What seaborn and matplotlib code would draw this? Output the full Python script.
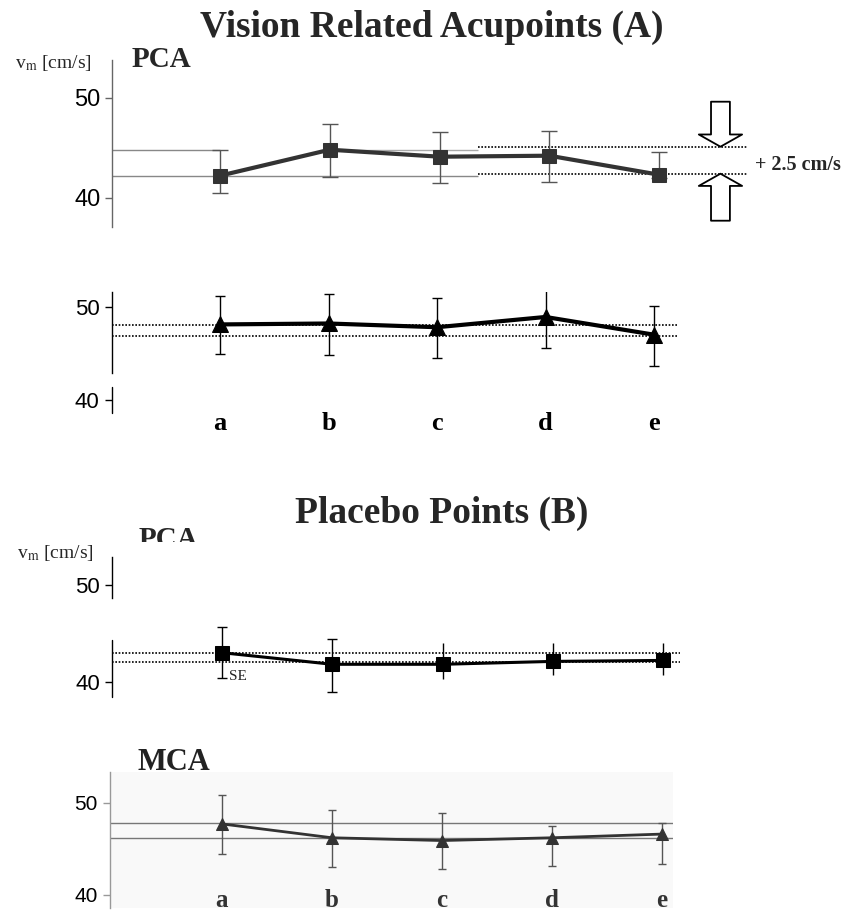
import numpy as np
import pandas as pd
import matplotlib
matplotlib.use("Agg")
import matplotlib.pyplot as plt
import seaborn as sns
from matplotlib.transforms import Bbox, TransformedBbox

# ── DATA ─────────────────────────────────────────────────────
sites = ["a", "b", "c", "d", "e"]
y_ticks = [40, 50]

# (A) vision related acupoints
vis_pca_mean = [42.2, 44.8, 44.1, 44.2, 42.3]
vis_pca_lo = [40.5, 42.1, 41.5, 41.6, 42.0]
vis_pca_hi = [44.8, 47.4, 46.6, 46.7, 44.6]
vis_pca_band = [45.1, 42.4]      # dotted lines, 2.5 cm/s apart
vis_pca_base = [44.8, 42.2]      # grey guide lines

vis_mca_mean = [48.1, 48.2, 47.8, 48.9, 47.0]
vis_mca_lo = [44.9, 44.8, 44.5, 45.6, 43.6]
vis_mca_hi = [51.2, 51.4, 50.9, 51.8, 50.1]
vis_mca_band = [48.0, 46.9]

# (B) placebo points
plc_pca_mean = [43.0, 41.8, 41.8, 42.1, 42.2]
plc_pca_lo = [40.4, 38.9, 40.3, 40.7, 40.7]
plc_pca_hi = [45.7, 44.4, 44.0, 44.0, 44.0]
plc_pca_band = [43.0, 42.0]

plc_mca_mean = [47.7, 46.2, 45.9, 46.2, 46.6]
plc_mca_lo = [44.4, 43.0, 42.8, 43.1, 43.4]
plc_mca_hi = [50.8, 49.2, 48.9, 47.5, 47.8]
plc_mca_band = [47.8, 46.2]

# ── STYLE ────────────────────────────────────────────────────
sns.set_style("white")
plt.rcParams['font.family'] = ['Liberation Sans', 'DejaVu Sans']
plt.rcParams['mathtext.fontset'] = 'stix'
SERIF = ['Liberation Serif', 'DejaVu Serif']

W, H = 856, 916
fig = plt.figure(figsize=(W / 100, H / 100), dpi=100)


def fx(px):
    return px / W


def fy(py):
    return 1 - py / H


def add_panel(x_a, x_e, y40, y50, xlim, ylim):
    # place axes so that sites a..e and ticks 40/50 land where the scan has them
    sx = (x_e - x_a) / 4
    sy = (y40 - y50) / 10
    left = x_a + xlim[0] * sx
    right = x_a + xlim[1] * sx
    bottom = y40 + (40 - ylim[0]) * sy
    top = y40 - (ylim[1] - 40) * sy
    ax = fig.add_axes([fx(left), fy(bottom), (right - left) / W, (bottom - top) / H])
    ax.patch.set_alpha(0)
    return ax


def style_axis(ax, xlim, ylim, spine_span, lower_span=None, col="black", fs=16):
    for s in ["top", "right", "bottom"]:
        ax.spines[s].set_visible(False)
    ax.spines["left"].set_color(col)
    ax.spines["left"].set_linewidth(1)
    ax.spines["left"].set_bounds(*spine_span)
    if lower_span is not None:
        ax.plot([0, 0], lower_span, transform=ax.get_yaxis_transform(),
                color=col, lw=1, clip_on=False)
    ax.set_xlim(xlim)
    ax.set_ylim(ylim)
    ax.set_xticks([])
    ax.set_yticks(y_ticks)
    ax.set_yticklabels([str(t) for t in y_ticks])
    ax.tick_params(axis="y", length=5, width=1, pad=3.5, labelsize=fs,
                   color=col, labelcolor="black", left=True)
    ax.set_xlabel("")
    ax.set_ylabel("")


def draw_series(ax, mean, lo, hi, marker, ms, lw, color, ecolor, capsize, capped=None):
    df = pd.DataFrame({"site": range(len(mean)), "v": mean})
    sns.lineplot(data=df, x="site", y="v", ax=ax, color=color, lw=lw,
                 marker=marker, markersize=ms, markerfacecolor=color,
                 markeredgecolor=color, zorder=4)
    x = np.arange(len(mean))
    m = np.array(mean)
    err = np.array([m - np.array(lo), np.array(hi) - m])
    if capped is None:
        capped = [True] * len(mean)
    capped = np.array(capped)
    for flag, cs in [(True, capsize), (False, 0)]:
        sel = capped == flag
        if sel.any():
            ax.errorbar(x[sel], m[sel], yerr=err[:, sel], fmt="none", ecolor=ecolor,
                        elinewidth=1, capsize=cs, capthick=1, zorder=3)


def site_labels(ax, dy_pt, color="black", fs=19):
    for i, s in enumerate(sites):
        ax.annotate(s, xy=(i, 0), xycoords=("data", "axes fraction"),
                    xytext=(0, -dy_pt), textcoords="offset points",
                    ha="center", va="baseline", fontsize=fs, fontweight="bold",
                    family=SERIF, color=color, annotation_clip=False)


dots = (0, (1, 1))

# ── (A) PCA ──────────────────────────────────────────────────
xl, yl = (-0.98, 4.8), (37.1, 53.8)
ax1 = add_panel(220, 659, 197.7, 97.7, xl, yl)
ax1.hlines(vis_pca_base[0], xl[0], 0, color="#888888", lw=1)
ax1.hlines(vis_pca_base[0], 1, 2.35, color="#aaaaaa", lw=1)
ax1.hlines(vis_pca_base[1], xl[0], 2.35, color="#888888", lw=1)
ax1.hlines(vis_pca_band, 2.35, xl[1], color="black", lw=1.2, linestyles=[dots])
draw_series(ax1, vis_pca_mean, vis_pca_lo, vis_pca_hi, "s", 9.5, 3, "#333333", "#555555", 6)
arrow = dict(arrowstyle="simple,head_length=0.22,head_width=0.78,tail_width=0.34",
             fc="white", ec="black", lw=1.3, shrinkA=0, shrinkB=0, mutation_scale=40)
ax1.annotate("", xy=(4.56, vis_pca_band[0]), xytext=(4.56, vis_pca_band[0] + 4.5),
             arrowprops=arrow, annotation_clip=False)
ax1.annotate("", xy=(4.56, vis_pca_band[1]), xytext=(4.56, vis_pca_band[1] - 4.7),
             arrowprops=arrow, annotation_clip=False)
style_axis(ax1, xl, yl, yl, col="#666666", fs=17)

# ── (A) MCA ──────────────────────────────────────────────────
xl, yl = (-1.0, 4.22), (38.6, 51.6)
ax2 = add_panel(220, 654, 400, 306.7, xl, yl)
for v in vis_mca_band:
    ax2.axhline(v, color="black", lw=1.2, ls=dots)
draw_series(ax2, vis_mca_mean, vis_mca_lo, vis_mca_hi, "^", 11, 3, "black", "black", 3.6)
style_axis(ax2, xl, yl, (42.86, 51.6), lower_span=(38.6, 41.43), fs=16)
site_labels(ax2, 12.5)

# ── (B) PCA ──────────────────────────────────────────────────
xl, yl = (-1.0, 4.15), (38.45, 52.93)
ax3 = add_panel(222, 663, 681.7, 585, xl, yl)
for v in plc_pca_band:
    ax3.axhline(v, color="black", lw=1.2, ls=dots)
draw_series(ax3, plc_pca_mean, plc_pca_lo, plc_pca_hi, "s", 10, 2.2, "black", "black", 3.6,
            capped=[True, True, False, False, False])
ax3.annotate("SE", xy=(0, plc_pca_lo[0]), xytext=(5, 1), textcoords="offset points",
             va="center", ha="left", fontsize=11, family=SERIF)
style_axis(ax3, xl, yl, (48.62, 52.93), lower_span=(38.45, 44.31), fs=16)

# ── (B) MCA ──────────────────────────────────────────────────
xl, yl = (-1.02, 4.1), (38.55, 53.36)
ax4 = add_panel(222, 662, 895, 802.7, xl, yl)
ax4.patch.set_alpha(1)
ax4.set_facecolor("#f9f9f9")
for v in plc_mca_band:
    ax4.axhline(v, color="#777777", lw=1)
draw_series(ax4, plc_mca_mean, plc_mca_lo, plc_mca_hi, "^", 9, 2, "#333333", "#555555", 3)
style_axis(ax4, xl, yl, yl, col="#999999", fs=15)
site_labels(ax4, -1, color="#333333", fs=18)

# ── TEXTS ────────────────────────────────────────────────────
fig.text(fx(432), fy(36.7), "Vision Related Acupoints (A)", ha="center", va="baseline",
         fontsize=27, fontweight="bold", family=SERIF)
fig.text(fx(132), fy(67), "PCA", va="baseline", fontsize=21, fontweight="bold", family=SERIF)
fig.text(fx(15), fy(68), r"v$_{\mathrm{m}}$ [cm/s]", va="baseline", fontsize=14, family=SERIF)
fig.text(fx(755), fy(165), "+ 2.5 cm/s", va="center", fontsize=14.5, fontweight="bold",
         family=SERIF)

fig.text(fx(442), fy(523), "Placebo Points (B)", ha="center", va="baseline",
         fontsize=27, fontweight="bold", family=SERIF)
t = fig.text(fx(139), fy(547), "PCA", va="baseline", fontsize=21, fontweight="bold",
             family=SERIF)
t.set_clip_box(TransformedBbox(Bbox.from_extents(0, fy(542), 1, 1), fig.transFigure))
t.set_clip_on(True)
fig.text(fx(17), fy(558), r"v$_{\mathrm{m}}$ [cm/s]", va="baseline", fontsize=14, family=SERIF)
fig.text(fx(137), fy(770), "MCA", va="baseline", fontsize=22, fontweight="bold",
         family=SERIF, color="#222222")

fig.savefig("out.png", dpi=100)
